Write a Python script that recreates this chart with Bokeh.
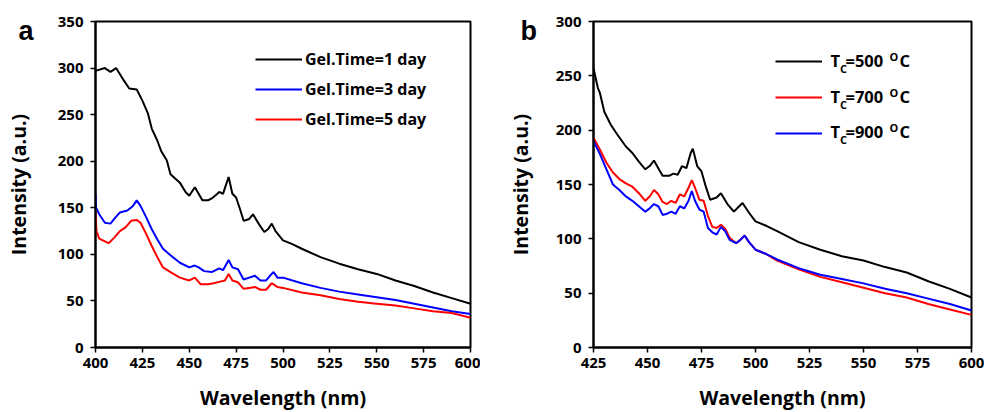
from bokeh.plotting import figure
from bokeh.layouts import row
from bokeh.models import Legend, LegendItem, Label, FixedTicker, Range1d
from bokeh.embed import file_html
from bokeh.resources import INLINE

# ---------------- Panel a data ----------------
a_x_1day = [400, 405, 408, 411, 415, 418, 422, 425, 428, 430, 433, 435, 438, 440, 445, 448, 450,
            453, 455, 457, 460, 462, 465, 466, 468, 470, 471, 473, 475, 477, 479, 482, 484, 487,
            490, 492, 494, 496, 500, 505, 510, 520, 530, 540, 550, 560, 570, 580, 590, 600]
a_y_1day = [297, 300, 296, 300, 287, 278, 277, 265, 251, 235, 222, 211, 201, 186, 177, 167, 163,
            172, 165, 158, 158, 160, 165, 167, 165, 177, 183, 165, 161, 149, 136, 138, 143, 133,
            124, 127, 133, 125, 115, 111, 106, 97, 90, 84, 79, 72, 66, 59, 53, 47]

a_x_3day = [400, 400.3, 402, 405, 408, 410, 413, 417, 420, 422, 424, 427, 430, 433, 436, 440, 445,
            450, 453, 455, 458, 462, 466, 468, 471, 473, 476, 479, 482, 485, 488, 491, 493, 495,
            497, 500, 510, 520, 530, 540, 550, 560, 570, 580, 590, 600]
a_y_3day = [165, 150, 143, 134, 133, 138, 145, 147, 152, 158, 152, 140, 127, 116, 106, 99, 91,
            86, 88, 86, 82, 81, 85, 83, 94, 86, 84, 73, 75, 77, 72, 72, 77, 81,
            75, 75, 69, 64, 60, 57, 54, 51, 47, 43, 39, 36]

a_x_5day = [400, 400.5, 402, 405, 407, 410, 413, 416, 419, 422, 424, 427, 430, 433, 436, 440, 445,
            450, 453, 456, 460, 463, 467, 469, 471, 473, 476, 479, 482, 485, 488, 491, 494, 497,
            500, 510, 520, 530, 540, 550, 560, 570, 580, 590, 600]
a_y_5day = [147, 125, 117, 114, 112, 118, 125, 129, 136, 137, 134, 122, 109, 97, 86, 81, 75,
            72, 75, 68, 68, 69, 71, 72, 79, 72, 70, 63, 64, 65, 62, 62, 69, 65,
            64, 59, 56, 52, 49, 47, 45, 42, 39, 37, 32]

a_labels = ["Gel.Time=1 day", "Gel.Time=3 day", "Gel.Time=5 day"]
a_ticks_x = [400, 425, 450, 475, 500, 525, 550, 575, 600]
a_ticks_y = [0, 50, 100, 150, 200, 250, 300, 350]

# ---------------- Panel b data ----------------
b_x_500 = [425, 427, 428, 430, 433, 436, 440, 443, 446, 449, 451, 453, 455, 457, 460, 462, 464,
           466, 468, 470, 471, 473, 475, 477, 479, 482, 484, 487, 490, 492, 494, 497, 500, 505,
           510, 520, 530, 540, 550, 560, 570, 580, 590, 600]
b_y_500 = [257, 239, 234, 217, 205, 196, 185, 179, 171, 164, 167, 172, 165, 158, 158, 160, 159,
           167, 165, 179, 183, 167, 162, 148, 136, 138, 142, 132, 125, 129, 133, 124, 116, 112,
           107, 97, 90, 84, 80, 74, 69, 61, 54, 46]

b_x_700 = [425, 428, 431, 434, 437, 440, 443, 446, 449, 451, 453, 455, 457, 459, 461, 463, 465,
           467, 469, 470.5, 472, 474, 476, 478, 480, 482, 484, 486, 488, 491, 493, 495, 497,
           500, 505, 510, 520, 530, 540, 550, 560, 570, 580, 590, 600]
b_y_700 = [193, 182, 170, 161, 155, 151, 148, 142, 135, 139, 145, 141, 134, 132, 135, 133, 141,
           139, 147, 154, 147, 136, 135, 121, 111, 110, 113, 109, 101, 96, 99, 103, 97,
           90, 86, 80, 72, 65, 60, 55, 50, 46, 40, 35, 30]

b_x_900 = [425, 428, 431, 434, 437, 440, 443, 446, 449, 451, 453, 455, 457, 459, 461, 463, 465,
           467, 469, 470.5, 472, 474, 476, 478, 480, 482, 484, 486, 488, 491, 493, 495, 497,
           500, 505, 510, 520, 530, 540, 550, 560, 570, 580, 590, 600]
b_y_900 = [190, 178, 164, 150, 145, 139, 135, 130, 125, 128, 132, 130, 122, 123, 125, 123, 130,
           128, 135, 144, 135, 127, 125, 110, 106, 104, 111, 107, 99, 96, 99, 103, 97,
           90, 86, 81, 73, 67, 63, 59, 54, 50, 45, 40, 34]

b_temps = ["500", "700", "900"]
b_ticks_x = [425, 450, 475, 500, 525, 550, 575, 600]
b_ticks_y = [0, 50, 100, 150, 200, 250, 300]

FONT = "Open Sans"
TICK_SIZE = "15px"
AXIS_SIZE = "19.5px"


def style(p, xticks, yticks, ylabel_standoff):
    p.outline_line_color = "black"
    p.outline_line_width = 2
    p.xgrid.visible = False
    p.ygrid.visible = False
    for ax in (p.xaxis[0], p.yaxis[0]):
        ax.axis_line_width = 2
        ax.axis_line_color = "black"
        ax.major_tick_line_width = 1.5
        ax.major_tick_line_color = "black"
        ax.major_tick_in = 0
        ax.major_tick_out = 5
        ax.minor_tick_line_color = None
        ax.major_label_text_font = FONT
        ax.major_label_text_font_style = "bold"
        ax.major_label_text_font_size = TICK_SIZE
        ax.major_label_text_color = "black"
        ax.axis_label_text_font = FONT
        ax.axis_label_text_font_style = "bold"
        ax.axis_label_text_font_size = AXIS_SIZE
        ax.axis_label_text_color = "black"
    p.xaxis[0].ticker = FixedTicker(ticks=xticks)
    p.yaxis[0].ticker = FixedTicker(ticks=yticks)
    p.xaxis[0].major_label_standoff = 5
    p.yaxis[0].major_label_standoff = 7
    p.xaxis[0].axis_label_standoff = 13
    p.yaxis[0].axis_label_standoff = ylabel_standoff
    p.xaxis[0].axis_label = "Wavelength (nm)"
    p.yaxis[0].axis_label = "Intensity (a.u.)"


# ---------------- Figure a ----------------
# canvas starts 30px left of the page so the panel letter fits beside the axis
pa = figure(output_backend="svg", toolbar_location=None,
            frame_width=375, frame_height=326,
            min_border_left=125, min_border_right=10, min_border_top=21, min_border_bottom=65,
            x_range=Range1d(400, 600), y_range=Range1d(0, 350),
            margin=(0, 0, 0, -30))
style(pa, a_ticks_x, a_ticks_y, 23)

ra1 = pa.line(a_x_1day, a_y_1day, line_color="black", line_width=2)
ra3 = pa.line(a_x_3day, a_y_3day, line_color="#0000ff", line_width=2)
ra5 = pa.line(a_x_5day, a_y_5day, line_color="#ff0000", line_width=2)

leg_a = Legend(items=[LegendItem(label=a_labels[0], renderers=[ra1]),
                      LegendItem(label=a_labels[1], renderers=[ra3]),
                      LegendItem(label=a_labels[2], renderers=[ra5])],
               location=(160, 217), padding=0, margin=0, spacing=8,
               glyph_width=47, glyph_height=20, label_height=20, label_standoff=3,
               border_line_color=None, background_fill_alpha=0,
               label_text_font=FONT, label_text_font_style="bold",
               label_text_font_size="16px", label_text_color="black")
pa.add_layout(leg_a)

pa.add_layout(Label(x=32, y=302, x_units="screen", y_units="screen", text="a",
                    text_font="Liberation Sans", text_font_style="bold",
                    text_font_size="27px", text_color="black"), "left")

# ---------------- Figure b ----------------
pb = figure(output_backend="svg", toolbar_location=None,
            frame_width=378, frame_height=326,
            min_border_left=113, min_border_right=13, min_border_top=21, min_border_bottom=65,
            x_range=Range1d(425, 600), y_range=Range1d(0, 300))
style(pb, b_ticks_x, b_ticks_y, 19)

rb5 = pb.line(b_x_500, b_y_500, line_color="black", line_width=2)
rb7 = pb.line(b_x_700, b_y_700, line_color="#ff0000", line_width=2)
rb9 = pb.line(b_x_900, b_y_900, line_color="#0000ff", line_width=2)

leg_b = Legend(items=[LegendItem(label=" ", renderers=[rb5]),
                      LegendItem(label=" ", renderers=[rb7]),
                      LegendItem(label=" ", renderers=[rb9])],
               location=(182, 204), padding=0, margin=0, spacing=16,
               glyph_width=47, glyph_height=20, label_height=20, label_standoff=3,
               border_line_color=None, background_fill_alpha=0,
               label_text_font_size="8px")
pb.add_layout(leg_b)

# legend texts T_C=xxx ^O C built from pieces
row_base = [276, 240, 205]
for t, yb in zip(b_temps, row_base):
    common = dict(x_units="screen", y_units="screen", text_font=FONT,
                  text_font_style="bold", text_color="black")
    pb.add_layout(Label(x=237, y=yb, text="T", text_font_size="16.5px", **common))
    pb.add_layout(Label(x=246.5, y=yb - 4, text="C", text_font_size="11px", **common))
    pb.add_layout(Label(x=252, y=yb, text="=" + t, text_font_size="16.5px", **common))
    pb.add_layout(Label(x=296, y=yb + 8, text="O", text_font_size="11px", **common))
    pb.add_layout(Label(x=306, y=yb, text="C", text_font_size="16.5px", **common))

pb.add_layout(Label(x=33, y=302, x_units="screen", y_units="screen", text="b",
                    text_font="Liberation Sans", text_font_style="bold",
                    text_font_size="27px", text_color="black"), "left")

layout = row(pa, pb)
open("out.html", "w").write(file_html(layout, INLINE))
